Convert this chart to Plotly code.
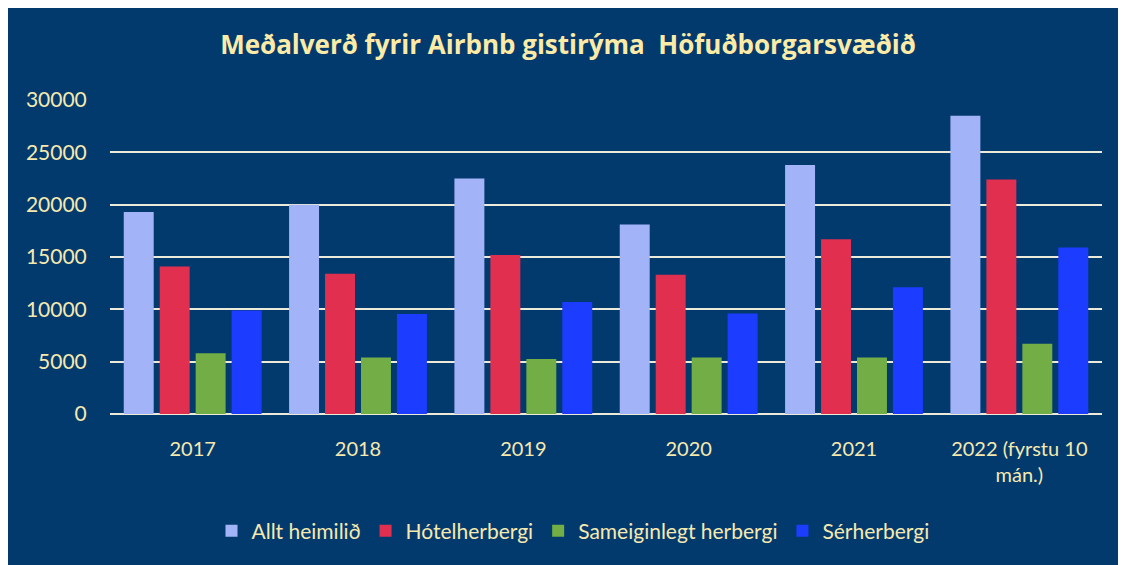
import plotly.graph_objects as go

categories = ["2017", "2018", "2019", "2020", "2021", "2022 (fyrstu 10<br>mán.)"]
allt_heimilid = [19300, 20000, 22500, 18100, 23800, 28500]
hotelherbergi = [14100, 13400, 15200, 13300, 16700, 22400]
sameiginlegt = [5800, 5400, 5250, 5400, 5400, 6700]
serherbergi = [9900, 9550, 10700, 9600, 12100, 15900]

series_names = ["Allt heimilið", "Hótelherbergi", "Sameiginlegt herbergi", "Sérherbergi"]
colors = ["#A2B4F7", "#E12F50", "#72AD46", "#1C3DFF"]

NAVY = "#033A6E"
TXT = "#F6E9AE"

fig = go.Figure()
for name, vals, col in zip(series_names, [allt_heimilid, hotelherbergi, sameiginlegt, serherbergi], colors):
    fig.add_trace(go.Bar(x=categories, y=vals, name=name, marker=dict(color=col, line=dict(width=0))))

fig.update_layout(
    width=1126, height=565,
    margin=dict(l=102, r=32, t=92, b=159),
    paper_bgcolor=NAVY, plot_bgcolor=NAVY,
    barmode="group", bargap=0.13, bargroupgap=0.167,
    title=dict(text="Meðalverð fyrir Airbnb gistirýma  Höfuðborgarsvæðið",
               x=560 / 1126, xanchor="center", xref="container",
               y=1 - 37 / 565, yanchor="middle", yref="container",
               font=dict(family="Open Sans", size=26, color="#FCEBA6", weight="bold")),
    font=dict(family="Lato", color=TXT),
    legend=dict(orientation="h", xref="container", x=565 / 1126, xanchor="center",
                yref="container", y=1 - 523 / 565, yanchor="middle",
                font=dict(size=21, color=TXT), bgcolor="rgba(0,0,0,0)",
                itemwidth=30, traceorder="normal"),
    showlegend=True,
)

fig.update_yaxes(range=[0, 30000], dtick=5000, tickformat="d",
                 showgrid=True, gridcolor="#ECEAD8", gridwidth=2,
                 zeroline=True, zerolinecolor="#ECEAD8", zerolinewidth=2,
                 showline=False, ticks="outside", ticklen=18, tickcolor=NAVY,
                 tickfont=dict(family="Lato", size=21, color=TXT))
fig.update_xaxes(showgrid=False, showline=False, ticks="outside", ticklen=17, tickcolor=NAVY,
                 tickfont=dict(family="Lato", size=20, color=TXT))

fig.write_html("out.html")
